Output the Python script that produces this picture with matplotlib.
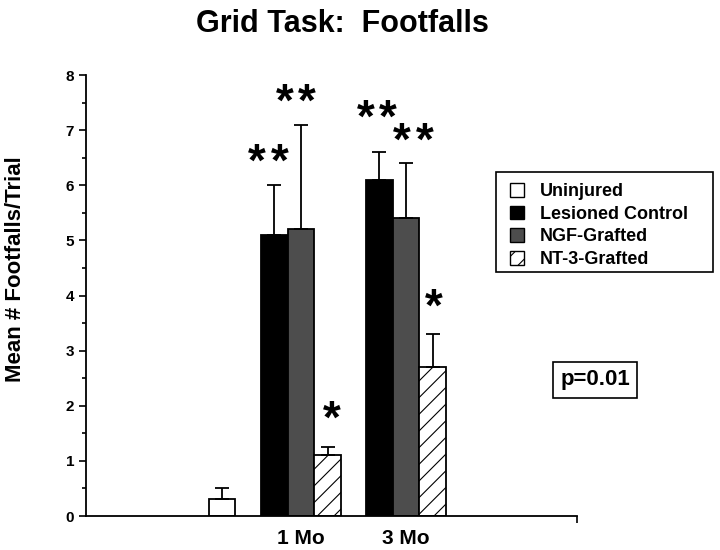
import numpy as np
import matplotlib
matplotlib.use('Agg')
import matplotlib.pyplot as plt
from matplotlib.patches import Patch, Rectangle
from matplotlib.ticker import MultipleLocator

plt.rcParams['font.family'] = ['Liberation Sans', 'DejaVu Sans']
plt.rcParams['font.weight'] = 'bold'
plt.rcParams['hatch.linewidth'] = 0.8

# ------------------------------------------------------------------------------
series = ['Uninjured', 'Lesioned Control', 'NGF-Grafted', 'NT-3-Grafted']
groups = ['1 Mo', '3 Mo']
uninjured_mean = 0.3
uninjured_err = 0.2
lesioned_mean = [5.1, 6.1]
lesioned_err = [0.9, 0.5]
ngf_mean = [5.2, 5.4]
ngf_err = [1.9, 1.0]
nt3_mean = [1.1, 2.7]
nt3_err = [0.15, 0.6]
# significance marks: number of stars per bar
stars_lesioned = [2, 2]
stars_ngf = [2, 2]
stars_nt3 = [1, 1]
# where the stars sit, relative to bar centre / error bar top
star_dx_lesioned = [-0.22, -0.1]
star_dy_lesioned = [0.55, 0.75]
star_dx_ngf = [-0.19, 0.28]
star_dy_ngf = [0.54, 0.53]
star_dx_nt3 = [0.17, 0.03]
star_dy_nt3 = [0.65, 0.63]
p_text = 'p=0.01'

fig = plt.figure(figsize=(7.2, 5.5), dpi=100)
ax = fig.add_axes([86/720, 34/550, (577-86)/720, (516-75)/550])

w = 1.0
centers = np.array([8.08, 12.03])
x_un = 5.12
ekw = dict(elinewidth=1.3, capthick=1.3, ecolor='black')
cap = 4.7

def upper(err):
    err = np.atleast_1d(err)
    return [np.zeros_like(err), err]

ax.bar(x_un, uninjured_mean, w, color='white', edgecolor='black', lw=1.3,
       yerr=upper(uninjured_err), capsize=cap, error_kw=ekw)
ax.bar(centers-w, lesioned_mean, w, color='black', edgecolor='black', lw=1.3,
       yerr=upper(lesioned_err), capsize=cap, error_kw=ekw)
ax.bar(centers, ngf_mean, w, color='#4d4d4d', edgecolor='black', lw=1.3,
       yerr=upper(ngf_err), capsize=cap, error_kw=ekw)
ax.bar(centers+w, nt3_mean, w, color='white', edgecolor='black', lw=1.3,
       hatch='//', yerr=upper(nt3_err), capsize=cap, error_kw=ekw)

# significance stars
fs_star = 33
def stars(x, y, n):
    # pitch between two stars ~ 22px
    offs = [0.0] if n == 1 else [-8.2, 8.2]
    for o in offs:
        ax.annotate('*', xy=(x, y), xytext=(o, -0.46*fs_star),
                    textcoords='offset points', ha='center', va='baseline',
                    fontsize=fs_star, fontweight='bold')

for i in range(2):
    stars(centers[i]-w+star_dx_lesioned[i],
          lesioned_mean[i]+lesioned_err[i]+star_dy_lesioned[i], stars_lesioned[i])
    stars(centers[i]+star_dx_ngf[i],
          ngf_mean[i]+ngf_err[i]+star_dy_ngf[i], stars_ngf[i])
    stars(centers[i]+w+star_dx_nt3[i],
          nt3_mean[i]+nt3_err[i]+star_dy_nt3[i], stars_nt3[i])

ax.set_xlim(0, 18.46)
ax.set_ylim(0, 8)
ax.yaxis.set_major_locator(MultipleLocator(1))
ax.yaxis.set_minor_locator(MultipleLocator(0.5))
ax.set_xticks(centers)
ax.set_xticklabels(groups, fontsize=15, fontweight='bold')
ax.set_xticks([18.46], minor=True)
ax.tick_params(axis='x', which='major', length=0, pad=9)
ax.tick_params(axis='x', which='minor', length=5, width=1.2)
ax.tick_params(axis='y', which='major', length=5, width=1.2, labelsize=11)
ax.tick_params(axis='y', which='minor', length=3, width=1.2)
for t in ax.get_yticklabels():
    t.set_fontweight('bold')
for s in ['top', 'right']:
    ax.spines[s].set_visible(False)
for s in ['left', 'bottom']:
    ax.spines[s].set_linewidth(1.3)

# legend: box drawn separately (it is wider than its text in the original)
fig.patches.append(Rectangle((496/720, 1-272/550), 217/720, 100/550,
                             transform=fig.transFigure, fc='white',
                             ec='black', lw=1.2, zorder=3))
handles = [Patch(facecolor='white', edgecolor='black'),
           Patch(facecolor='black', edgecolor='black'),
           Patch(facecolor='#4d4d4d', edgecolor='black'),
           Patch(facecolor='white', edgecolor='black', hatch='//')]
leg = fig.legend(handles, series, loc='upper left',
                 bbox_to_anchor=(510/720, 1-183/550), borderaxespad=0,
                 frameon=False, fontsize=13, borderpad=0,
                 handlelength=0.8, handleheight=0.8, handletextpad=0.85,
                 labelspacing=0.3)
leg.set_zorder(4)

fig.text(595/720, 1-380/550, p_text, ha='center', va='center', fontsize=16,
         fontweight='bold',
         bbox=dict(boxstyle='square,pad=0.32', fc='white', ec='black', lw=1.2))

fig.text(342/720, 1-24/550, 'Grid Task:  Footfalls', ha='center', va='center',
         fontsize=22, fontweight='bold')
fig.text(16/720, 1-269/550, 'Mean # Footfalls/Trial', ha='center', va='center',
         rotation=90, fontsize=16, fontweight='bold')

plt.savefig('out.png', dpi=100)
plt.close()
